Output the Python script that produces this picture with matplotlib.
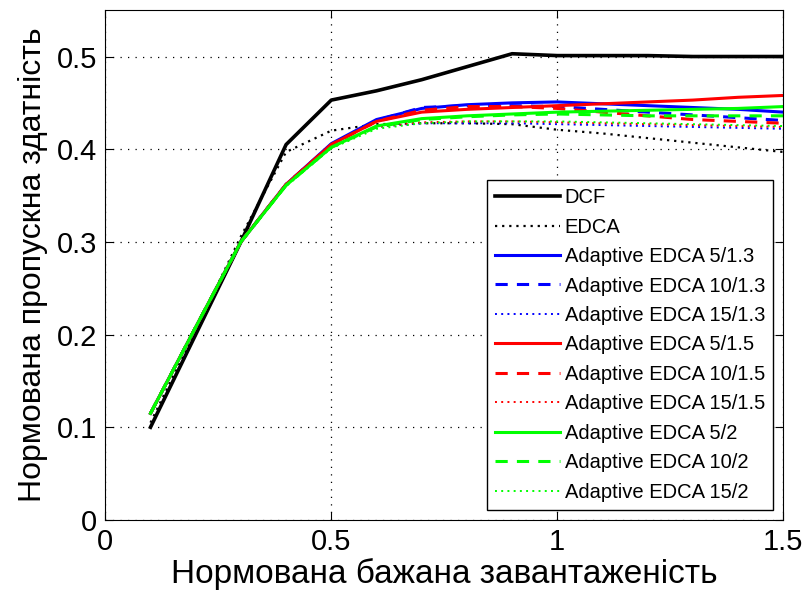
import numpy as np
import matplotlib.pyplot as plt

plt.rcParams['font.family'] = ['Liberation Sans', 'DejaVu Sans']

# навантаження
x = [0.1, 0.2, 0.3, 0.4, 0.5, 0.6, 0.7, 0.8, 0.9, 1.0, 1.1, 1.2, 1.3, 1.4, 1.5]

dcf = [0.100, 0.200, 0.300, 0.405, 0.453, 0.463, 0.475, 0.489, 0.503, 0.501,
       0.501, 0.501, 0.500, 0.500, 0.500]
edca = [0.105, 0.205, 0.306, 0.397, 0.420, 0.427, 0.428, 0.428, 0.427, 0.421,
        0.417, 0.412, 0.407, 0.402, 0.397]

a5_13 = [0.115, 0.208, 0.300, 0.362, 0.406, 0.432, 0.444, 0.448, 0.450, 0.451,
         0.449, 0.447, 0.445, 0.443, 0.440]
a10_13 = [0.115, 0.208, 0.300, 0.362, 0.405, 0.431, 0.445, 0.447, 0.447, 0.446,
          0.443, 0.440, 0.437, 0.434, 0.431]
a15_13 = [0.115, 0.208, 0.300, 0.361, 0.403, 0.424, 0.428, 0.428, 0.428, 0.427,
          0.426, 0.425, 0.424, 0.423, 0.422]
a5_15 = [0.115, 0.208, 0.300, 0.362, 0.405, 0.430, 0.440, 0.443, 0.445, 0.447,
         0.449, 0.451, 0.453, 0.456, 0.458]
a10_15 = [0.115, 0.208, 0.300, 0.362, 0.405, 0.430, 0.442, 0.446, 0.446, 0.444,
          0.440, 0.436, 0.432, 0.430, 0.428]
a15_15 = [0.115, 0.208, 0.300, 0.361, 0.403, 0.424, 0.429, 0.430, 0.430, 0.429,
          0.428, 0.427, 0.426, 0.425, 0.424]
a5_2 = [0.115, 0.208, 0.300, 0.361, 0.402, 0.425, 0.433, 0.436, 0.438, 0.440,
        0.441, 0.442, 0.443, 0.444, 0.446]
a10_2 = [0.115, 0.208, 0.300, 0.361, 0.402, 0.424, 0.432, 0.435, 0.437, 0.438,
         0.437, 0.436, 0.436, 0.436, 0.436]
a15_2 = [0.115, 0.208, 0.300, 0.360, 0.401, 0.422, 0.428, 0.430, 0.430, 0.430,
         0.429, 0.428, 0.427, 0.426, 0.425]

fig = plt.figure(figsize=(8.1, 5.99), dpi=100)
ax = fig.add_axes([0.130, 0.132, 0.837, 0.851])

dots = (0, (1, 2.2))
ax.plot(x, dcf, color='black', lw=2.6, label='DCF')
ax.plot(x, edca, color='black', lw=1.6, ls=dots, label='EDCA')
ax.plot(x, a5_13, color='#0000ff', lw=2.2, ls='-', label='Adaptive EDCA 5/1.3')
ax.plot(x, a10_13, color='#0000ff', lw=2.2, ls=(0, (4, 3)), label='Adaptive EDCA 10/1.3')
ax.plot(x, a15_13, color='#0000ff', lw=1.4, ls=dots, label='Adaptive EDCA 15/1.3')
ax.plot(x, a5_15, color='#ff0000', lw=2.2, ls='-', label='Adaptive EDCA 5/1.5')
ax.plot(x, a10_15, color='#ff0000', lw=2.2, ls=(0, (4, 3)), label='Adaptive EDCA 10/1.5')
ax.plot(x, a15_15, color='#ff0000', lw=1.4, ls=dots, label='Adaptive EDCA 15/1.5')
ax.plot(x, a5_2, color='#00ff00', lw=2.2, ls='-', label='Adaptive EDCA 5/2')
ax.plot(x, a10_2, color='#00ff00', lw=2.2, ls=(0, (4, 3)), label='Adaptive EDCA 10/2')
ax.plot(x, a15_2, color='#00ff00', lw=1.4, ls=dots, label='Adaptive EDCA 15/2')

ax.set_xlim(0, 1.5)
ax.set_ylim(0, 0.55)
ax.set_xticks([0, 0.5, 1, 1.5])
ax.set_xticklabels(['0', '0.5', '1', '1.5'])
ax.set_yticks([0, 0.1, 0.2, 0.3, 0.4, 0.5])
ax.set_yticklabels(['0', '0.1', '0.2', '0.3', '0.4', '0.5'])
ax.tick_params(direction='in', length=6, labelsize=21, top=True, right=True, pad=6)
ax.grid(True, color='black', ls=(0, (1, 5)), lw=0.9)

ax.set_xlabel('Нормована бажана завантаженість', fontsize=24, labelpad=1)
ax.set_ylabel('Нормована пропускна здатність', fontsize=23, labelpad=6)

leg = ax.legend(loc='lower right', fontsize=14.5, frameon=True, fancybox=False,
                edgecolor='black', framealpha=1, handlelength=3.2,
                handletextpad=0.25, labelspacing=0.52, borderaxespad=0.5,
                borderpad=0.4)
leg.get_frame().set_linewidth(1)

fig.savefig('out.png', dpi=100)
